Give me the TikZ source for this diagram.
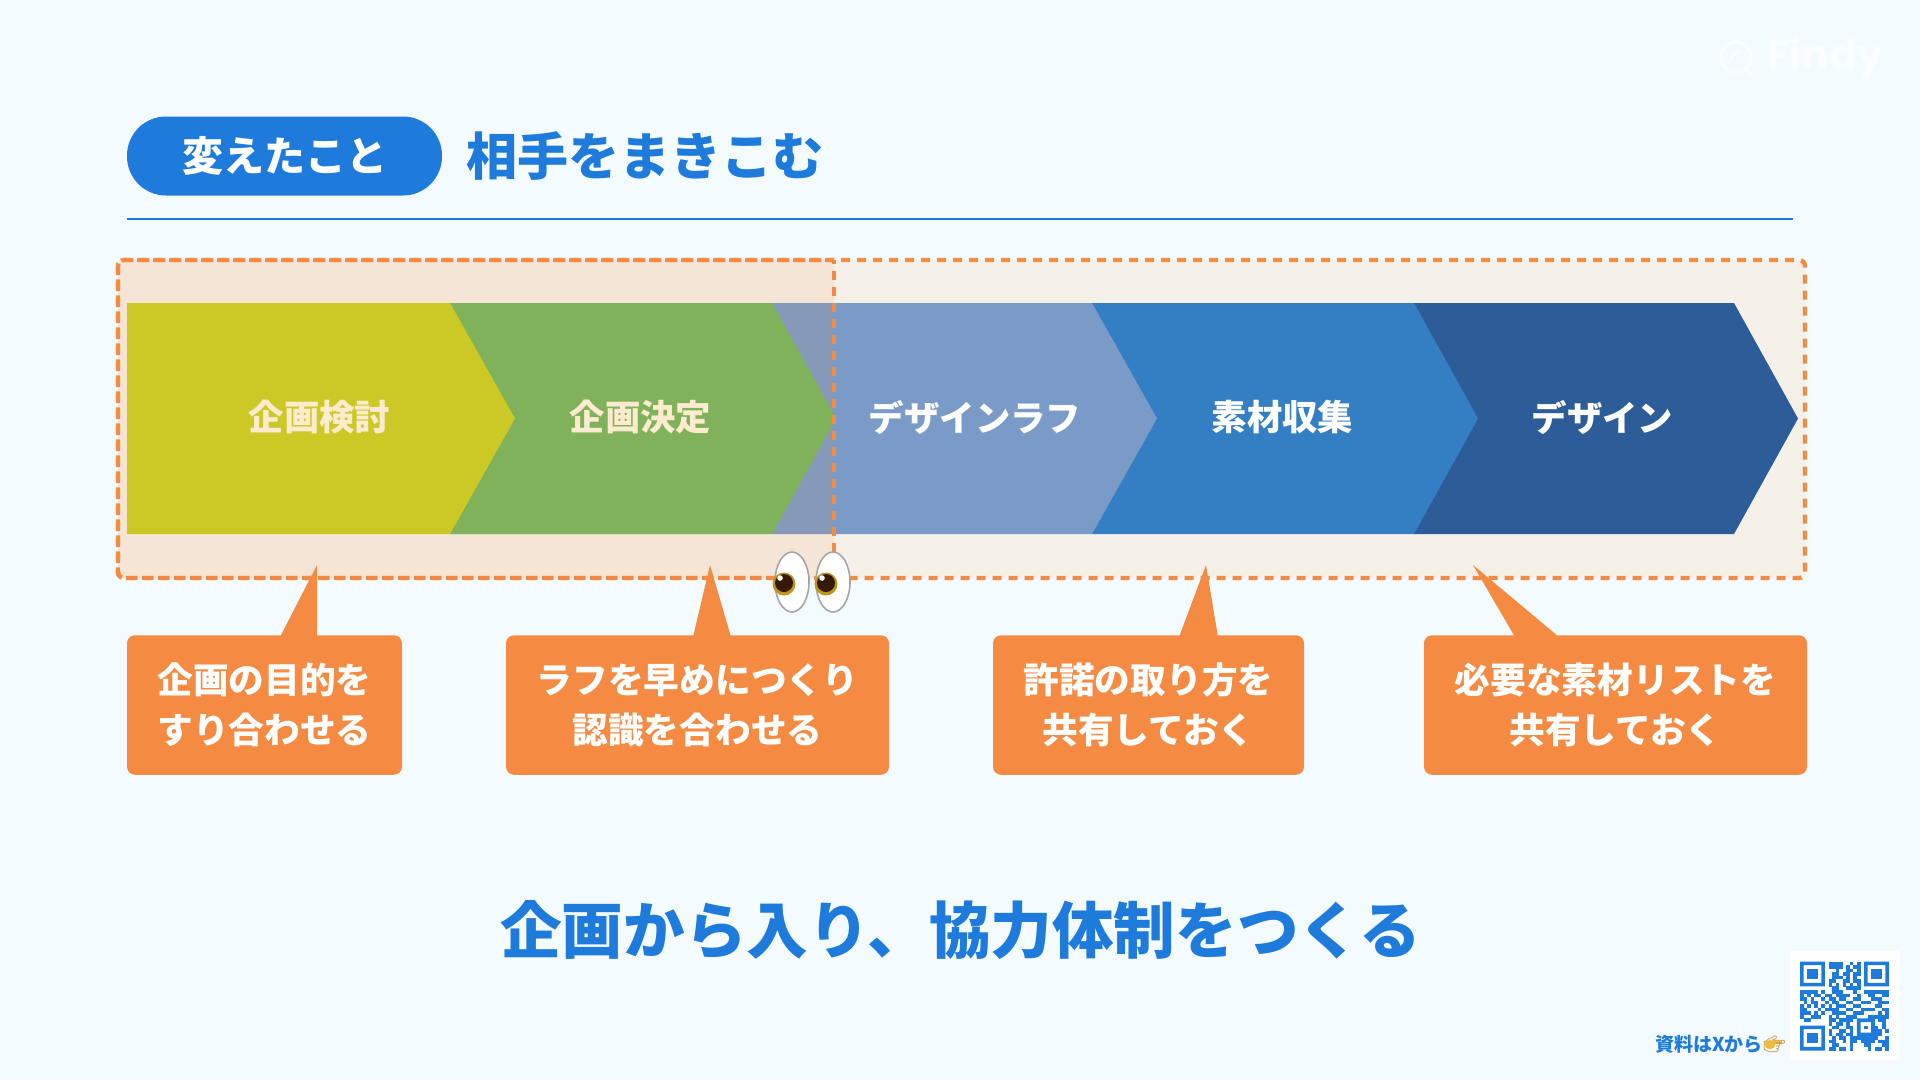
\documentclass[tikz,border=0pt]{standalone}
\usepackage{fontspec}
\setmainfont{Noto Sans CJK JP}
\newfontfamily\emojifont{Noto Emoji}
\newfontfamily\logofont{Poppins}
\usetikzlibrary{arrows.meta,positioning,calc}
\definecolor{pagefill}{RGB}{243,251,255}
\definecolor{mainblue}{RGB}{30,123,220}
\definecolor{calloutorange}{RGB}{245,139,66}
\definecolor{framefill}{RGB}{245,240,232}
\definecolor{stepyellow}{RGB}{200,209,37}
\definecolor{stepgreen}{RGB}{114,183,93}
\definecolor{stepsoft}{RGB}{122,155,199}
\definecolor{stepblue}{RGB}{52,126,196}
\definecolor{stepnavy}{RGB}{44,93,152}
\definecolor{stepcream}{RGB}{255,246,225}
\definecolor{logowhite}{RGB}{250,253,255}
\definecolor{eyegold}{RGB}{190,150,30}
\definecolor{eyebrown}{RGB}{55,25,8}
\definecolor{handgold}{RGB}{240,185,60}
\definecolor{handedge}{RGB}{190,130,30}

\begin{document}
\begin{tikzpicture}[
  x=1pt,y=-1pt,
  framebox/.style={draw=calloutorange,line width=4.4pt,dash pattern=on 9pt off 7pt},
  pillbox/.style={fill=mainblue,rounded corners=39pt,minimum width=315pt,minimum height=79pt,
    inner sep=0pt,text=white,font={\fontsize{41}{48}\selectfont\bfseries}},
  titletext/.style={inner sep=0pt,text=mainblue,anchor=west,font={\fontsize{51.1}{60}\selectfont\bfseries}},
  steptext/.style={inner sep=0pt,font={\fontsize{35.4}{42}\selectfont\bfseries}},
  calloutbox/.style={fill=calloutorange,rounded corners=8pt,inner sep=0pt,text=white,align=center,
    minimum height=139.5pt,font={\fontsize{35.7}{50}\selectfont\bfseries}},
  summarytext/.style={inner sep=0pt,text=mainblue,font={\fontsize{61.6}{70}\selectfont\bfseries}},
  eyeball/.style={fill=white,draw=gray!70,line width=1.6pt},
  qrcell/.style={fill=mainblue}
]
\useasboundingbox (0,0) rectangle (1920,1080);
\fill[pagefill] (0,0) rectangle (1920,1080);

% -------------------------------------------------------------------------
% Header
% -------------------------------------------------------------------------
\node[pillbox] (pill) at (284.5,156) {変えたこと};
\node[titletext] (title) at (466,156) {相手をまきこむ};
\coordinate (ruleleft) at (127,219);
\coordinate (ruleright) at (1793,219);
\draw[mainblue,line width=2pt] (ruleleft) -- (ruleright);

% -------------------------------------------------------------------------
% Process arrows
% -------------------------------------------------------------------------
\fill[framefill,rounded corners=6pt] (118,260) rectangle (1805,578);
\foreach \n/\col/\tcol/\xa/\xb/\xc/\xt/\lab in {
  design/stepnavy/white/1414/1734/1798/1602.5/デザイン,
  material/stepblue/white/1092/1414/1478/1282.5/素材収集,
  rough/stepsoft/white/772/1092/1157/975/デザインラフ,
  decide/stepgreen/stepcream/450/772/836/640.5/企画決定,
  plan/stepyellow/stepcream/127/450/515/319.5/企画検討}
{
  \fill[\col] (\xa,303) -- (\xb,303) -- (\xc,418.5) -- (\xb,534) -- (\xa,534) -- cycle;
  \node[steptext,text=\tcol] (\n) at (\xt,417.5) {\lab};
}
\fill[calloutorange,opacity=0.1,rounded corners=6pt] (118,260) -- (834,260) -- (834,578) -- (118,578) -- cycle;
\draw[framebox,rounded corners=6pt] (118,260) rectangle (1805,578);
\draw[framebox,rounded corners=6pt,dash phase=5pt] (834,578) -- (118,578) -- (118,260) -- (834,260);
\draw[framebox,dash phase=5pt,line width=3.5pt] (834,260) -- (834,578);

% -------------------------------------------------------------------------
% Callouts
% -------------------------------------------------------------------------
\node[calloutbox,minimum width=275pt] (goal) at (264.5,705) {企画の目的を\\すり合わせる};
\node[calloutbox,minimum width=383pt] (early) at (697.5,705) {ラフを早めにつくり\\認識を合わせる};
\node[calloutbox,minimum width=311pt] (rights) at (1148.5,705) {許諾の取り方を\\共有しておく};
\node[calloutbox,minimum width=383pt] (list) at (1615.5,705) {必要な素材リストを\\共有しておく};
\foreach \tx/\ba/\bb in {317/280/317,710/693/731,1206/1179/1218,1473/1515/1559}
  {\fill[calloutorange] (\tx,565) -- (\bb,637) -- (\ba,637) -- cycle;}

% eyes
\foreach \ex/\px in {792/784,833/826}
{
  \draw[eyeball] (\ex,582) ellipse (17 and 30);
  \fill[eyegold] (\px,584) circle (11.5);
  \fill[eyebrown] (\px,583) circle (9);
  \fill[white] (\px-4,578) circle (2.8);
}

% -------------------------------------------------------------------------
% Summary and footer
% -------------------------------------------------------------------------
\node[summarytext] (summary) at (960.5,930) {企画から入り、協力体制をつくる};
\node[inner sep=0pt,anchor=west,text=mainblue,font={\fontsize{19}{22}\selectfont\bfseries}] (source) at (1655,1044) {資料はXから};
\fill[handgold] (1770,1044.5) ellipse (5.5 and 4.5);
\fill[handgold] (1770,1040.5) rectangle (1782,1043.5);
\node[inner sep=0pt,anchor=west,text=handedge,font={\fontsize{18}{22}\selectfont\emojifont}] (hand) at (1763,1044) {👉};

% watermark
\draw[logowhite,line width=3.5pt] (1736,57) circle (15);
\draw[logowhite,line width=3.5pt] (1744,69) -- (1752,74);
\draw[logowhite,line width=2.5pt] (1729,63) .. controls (1731,56) and (1736,53) .. (1741,52);
\node[inner sep=0pt,anchor=west,text=logowhite,font={\fontsize{41}{48}\selectfont\logofont\bfseries}] (logo) at (1767,59) {Findy};

% qr code
\fill[white] (1790,951) rectangle (1900,1060);
\begin{scope}[shift={(1800,961.5)},x=3.56pt,y=-3.56pt]
  \foreach \qx/\qy in {0/0,18/0,0/18}
  {
    \fill[qrcell,even odd rule] (\qx,\qy) rectangle +(7,7) (\qx+1,\qy+1) rectangle +(5,5);
    \fill[qrcell] (\qx+2,\qy+2) rectangle +(3,3);
  }
  \fill[qrcell,even odd rule] (16,16) rectangle +(5,5) (17,17) rectangle +(3,3);
  \fill[qrcell] (18,18) rectangle +(1,1);
  \foreach \r/\cols in {
    0/{8,9,10,11,14,16},1/{8,9,10,11,13,15,16},2/{10,13,14,16},3/{9,10,12,13,15,16},
    4/{9,10,11,13,15},5/{8,9,12,13,15,16},6/{8,10,12,14,16},7/{9,10,13,14,15,16},
    8/{0,1,2,3,4,6,9,10,11,15,18,19,20,21,22,23,24},9/{0,2,4,5,7,8,10,11,12,13,16,19,20,23,24},
    10/{0,1,3,6,8,9,11,12,15,16,20,21,22},11/{1,3,4,7,9,10,13,14,17,18,19,22,23,24},
    12/{0,2,4,6,8,10,11,12,15,16,21,22},13/{0,1,5,7,8,9,10,13,14,17,18,19,20,23,24},
    14/{0,1,2,4,6,9,10,11,12,15,16,17,22,24},15/{0,3,4,5,8,10,13,14,15,19,20,21,22,23,24},
    16/{1,2,8,9,11,12,13,14,22,23},17/{8,10,11,13,23},18/{9,10,13,14,21,23},
    19/{8,11,12,14,21,22,24},20/{8,10,11,13,14,21,22},21/{9,11,12,14,15,16,17,18,19,20,21,24},
    22/{8,9,12,14,15,17,18,19,20,22,23,24},23/{9,10,14,18,19,23,24},24/{8,9,11,12,14,19,21,22,24}}
    {\foreach \c in \cols {\fill[qrcell] (\c,\r) rectangle +(1.02,1.02);}}
\end{scope}
\end{tikzpicture}
\end{document}
